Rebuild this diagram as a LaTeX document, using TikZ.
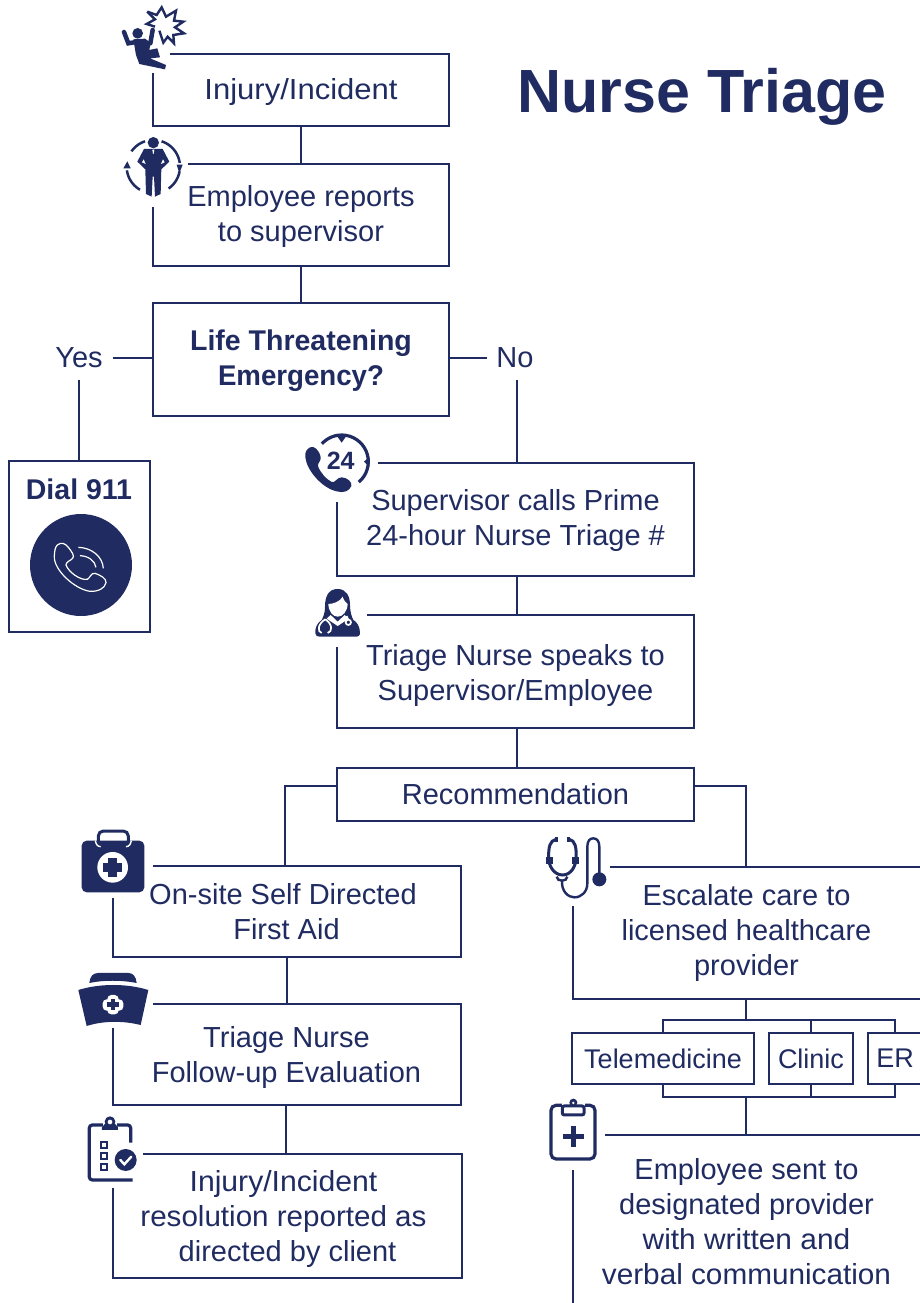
\documentclass[tikz,border=0pt]{standalone}
\usepackage{fontspec}
\setmainfont{Liberation Sans}
\definecolor{navy}{HTML}{202C61}
\newcommand{\sz}[1]{\fontsize{#1}{35}\selectfont}
\newcommand{\sx}[2]{\scalebox{#1}[1]{#2}}
\newcommand{\arcpath}[6][]{\draw[#1] plot[smooth,samples=24,domain=#5:#6] ({#2+#4*cos(\x)},{#3+#4*sin(\x)});}
\tikzset{
  ln/.style={draw=navy,line width=2.4pt},
  txt/.style={text=navy,align=center,inner sep=0pt,font=\sz{29}},
  frame/.style={inner sep=0pt,outer sep=0pt},
  ic/.style={fill=navy,draw=none},
  ico/.style={draw=navy,fill=none},
}
\begin{document}
\begin{tikzpicture}[x=1pt,y=-1pt,line join=miter]
\useasboundingbox (0,0) rectangle (919,1303);
\fill[white] (0,0) rectangle (919,1303);
% frames
\node[frame,minimum width=296pt,minimum height=72pt] (b1) at (301,90) {};
\node[frame,minimum width=296pt,minimum height=102pt] (b2) at (301,215) {};
\node[frame,ln,minimum width=296pt,minimum height=113pt] (b3) at (301,359.5) {};
\node[frame,ln,minimum width=141pt,minimum height=171pt] (d911) at (79.5,546.5) {};
\node[frame,minimum width=357pt,minimum height=113pt] (b4) at (515.5,519.5) {};
\node[frame,minimum width=357pt,minimum height=113pt] (b5) at (515.5,671.5) {};
\node[frame,ln,minimum width=357pt,minimum height=53pt] (rec) at (515.5,794.5) {};
\node[frame,minimum width=348pt,minimum height=91pt] (b6) at (287,911.5) {};
\node[frame,minimum width=348pt,minimum height=101pt] (b7) at (287,1054.5) {};
\node[frame,minimum width=349pt,minimum height=124pt] (b8) at (287.5,1216) {};
\node[frame,ln,minimum width=182pt,minimum height=51pt] (tele) at (663,1058.5) {};
\node[frame,ln,minimum width=84pt,minimum height=51pt] (clin) at (811,1058.5) {};
% gapped outlines
\coordinate (e9a) at (610,867); \coordinate (e9b) at (925,867);
\coordinate (e9c) at (925,999); \coordinate (e9d) at (573,999); \coordinate (e9e) at (573,906);
\coordinate (erA) at (925,1033); \coordinate (erB) at (868,1033); \coordinate (erC) at (868,1084); \coordinate (erD) at (925,1084);
\coordinate (e10a) at (605,1135); \coordinate (e10b) at (925,1135);
\coordinate (e10c) at (573,1170); \coordinate (e10d) at (573,1310);
\draw[ln] (170,54) -- (b1.north east) -- (b1.south east) -- (b1.south west) -- (153,73);
\draw[ln] (188,164) -- (b2.north east) -- (b2.south east) -- (b2.south west) -- (153,207);
\draw[ln] (378,463) -- (b4.north east) -- (b4.south east) -- (b4.south west) -- (337,502);
\draw[ln] (367,615) -- (b5.north east) -- (b5.south east) -- (b5.south west) -- (337,647);
\draw[ln] (153,866) -- (b6.north east) -- (b6.south east) -- (b6.south west) -- (113,898);
\draw[ln] (153,1004) -- (b7.north east) -- (b7.south east) -- (b7.south west) -- (113,1028);
\draw[ln] (143,1154) -- (b8.north east) -- (b8.south east) -- (b8.south west) -- (113,1188);
\draw[ln] (e9a) -- (e9b) (e9c) -- (e9d) -- (e9e);
\draw[ln] (erA) -- (erB) -- (erC) -- (erD);
\draw[ln] (e10a) -- (e10b) (e10c) -- (e10d);
% texts
\node[txt] (t1) at (301,92) {\sx{1.07}{Injury/Incident}};
\node[txt] (t2) at (301,217) {Employee reports\\to supervisor};
\node[txt,font=\sz{28.5}\bfseries] (t3) at (301,361) {Life Threatening\\\sx{.97}{Emergency?}};
\node[txt] (yes) at (79,358) {Yes};
\node[txt] (no) at (515,358) {No};
\node[txt,font=\sz{28.5}\bfseries] (tD) at (79,489) {Dial 911};
\node[txt] (t4) at (515.5,520) {Supervisor calls Prime\\24-hour Nurse Triage \#};
\node[txt] (t5) at (515.5,675) {Triage Nurse speaks to\\Supervisor/Employee};
\node[txt] (t6) at (515.5,794) {Recommendation};
\node[txt] (t7) at (283,911.5) {On-site Self Directed\\\hspace*{7pt}First Aid};
\node[txt] (t8) at (286.5,1057) {Triage Nurse\\Follow-up Evaluation};
\node[txt] (t9) at (283.5,1219) {\sx{1.04}{Injury/Incident}\\\sx{1.02}{resolution reported as}\\\hspace*{8pt}directed by client};
\node[txt] (t10) at (746.5,932.5) {Escalate care to\\licensed healthcare\\provider};
\node[txt,font=\sz{27}] (tT) at (663,1058.5) {Telemedicine};
\node[txt,font=\sz{27}] (tC) at (811,1058.5) {Clinic};
\node[txt,font=\sz{27}] (tE) at (895,1058.5) {ER};
\node[txt] (t11) at (746.5,1221.5) {Employee sent to\\designated provider\\\sx{1.03}{with written and}\\\sx{1.025}{verbal communication}};
\node[text=navy,inner sep=0pt,font=\sz{61}\bfseries] (title) at (702,97) {Nurse Triage};
% connectors
\draw[ln] (b1.south) -- (b2.north);
\draw[ln] (b2.south) -- (b3.north);
\draw[ln] (b3.west |- 0,358) -- (113,358);
\draw[ln] (79,380) -- (79,461);
\draw[ln] (b3.east |- 0,358) -- (487,358);
\draw[ln] (517,380) -- (517,463);
\draw[ln] (517,576) -- (517,615);
\draw[ln] (517,728) -- (517,768);
\draw[ln] (rec.west |- 0,786) -- (285,786) -- (285,866);
\draw[ln] (rec.east |- 0,786) -- (746,786) -- (746,867);
\draw[ln] (287,957) -- (287,1004);
\draw[ln] (286,1105) -- (286,1154);
\draw[ln] (746,999) -- (746,1020);
\draw[ln] (tele.north) -- (663,1020) -- (895,1020) -- (895,1033);
\draw[ln] (clin.north) -- (811,1020);
\draw[ln] (tele.south) -- (663,1097) -- (895,1097) -- (895,1084);
\draw[ln] (clin.south) -- (811,1097);
\draw[ln] (746,1097) -- (746,1135);
% ---- icon: fall + burst
\begin{scope}[shift={(100,0)},x=.3333pt,y=-.3333pt]
\draw[ico,line width=2.4pt,line join=miter] (142,35)--(170,45)--(185,22)--(198,50)--(228,32)--(222,62)--(250,65)--(225,82)--(252,100)--(220,105)--(222,130)--(203,110)--(190,128)--(178,92);
\draw[ico,line width=2.4pt] (142,35)--(165,58)--(140,72)--(165,80);
\fill[navy] (113,100) circle (16);
\fill[ic] (100,118)--(135,116)--(152,128)--(148,150)--(172,145)--(180,172)--(150,175)--(198,195)--(195,208)--(118,192)--(108,165)--cycle;
\draw[navy,line width=4.5pt,line cap=round] (72,96) -- (85,130) -- (103,127);
\draw[navy,line width=4.5pt,line cap=round] (158,90) -- (151,130);
\end{scope}
% ---- icon: employee with arrows
\begin{scope}[shift={(100,0)},x=.3333pt,y=-.3333pt]
\fill[navy] (160,428) circle (17);
\fill[ic] (132,447)--(188,447)--(208,485)--(184,508)--(182,582)--(165,590)--(162,530)--(158,530)--(155,590)--(138,582)--(136,508)--(112,485)--cycle;
\fill[white] (157,449)--(163,449)--(161,462)--(159,462)--cycle;
\fill[white] (131,478)--(137,492)--(126,487)--cycle;
\fill[white] (189,478)--(183,492)--(194,487)--cycle;
\arcpath[navy,line width=2.5pt]{160}{500}{80}{-145}{-108}
\arcpath[navy,line width=2.5pt]{160}{500}{80}{-72}{-8}
\arcpath[navy,line width=2.5pt]{160}{500}{80}{10}{55}
\arcpath[navy,line width=2.5pt]{160}{500}{80}{120}{172}
\fill[navy] (238,520)--(230,494)--(248,494)--cycle;
\fill[navy] (82,484)--(70,505)--(92,505)--cycle;
\end{scope}
% ---- icon: 24 phone
\begin{scope}[shift={(290,420)},x=.3333pt,y=-.3333pt]
\arcpath[navy,line width=3.2pt]{155}{125}{80}{-138}{50}
\fill[navy] (141,48)--(169,48)--(155,68)--cycle;
\fill[navy] (238,110)--(238,140)--(222,125)--cycle;
\fill[ic] (60,82) .. controls (72,76) and (88,90) .. (92,112) .. controls (94,124) and (82,128) .. (84,138) .. controls (90,158) and (110,178) .. (125,186) .. controls (136,190) and (140,172) .. (155,172) .. controls (170,172) and (188,186) .. (184,198) .. controls (178,214) and (160,220) .. (140,214) .. controls (95,204) and (50,150) .. (46,112) .. controls (44,96) and (50,88) .. (60,82) -- cycle;
\node[inner sep=0pt,text=navy,font=\sz{25}\bfseries] (n24) at (152,122) {24};
\end{scope}
% ---- icon: nurse
\begin{scope}[shift={(290,420)},x=.3333pt,y=-.3333pt]
\fill[ic] (143,507) .. controls (115,507) and (105,530) .. (105,560) .. controls (105,580) and (100,590) .. (95,600) .. controls (80,610) and (75,625) .. (76,640) .. controls (76,648) and (82,650) .. (90,650) -- (195,650) .. controls (205,650) and (210,648) .. (210,638) .. controls (210,620) and (200,605) .. (190,600) .. controls (185,590) and (180,575) .. (180,555) .. controls (180,530) and (170,507) .. (143,507) -- cycle;
\fill[white] (115,552) .. controls (130,552) and (150,545) .. (158,530) .. controls (162,545) and (170,548) .. (173,552) .. controls (172,575) and (158,590) .. (143,590) .. controls (128,590) and (116,575) .. (115,552) -- cycle;
\fill[white] (122,585)--(143,605)--(164,585)--(176,596)--(143,618)--(110,596)--cycle;
\draw[white,line width=1.7pt] (106,598) .. controls (82,612) and (82,636) .. (95,639) (106,598) .. controls (128,612) and (128,636) .. (113,639);
\draw[white,line width=1.7pt] (170,588) -- (174,598);
\draw[white,line width=1.7pt] (175,607) circle (8);
\end{scope}
% ---- icon: first aid kit
\begin{scope}[shift={(70,820)},x=.3333pt,y=-.3333pt]
\draw[navy,line width=3pt,rounded corners=5pt] (85,78) -- (85,33) -- (175,33) -- (175,78);
\fill[navy,rounded corners=5pt] (35,62) rectangle (223,217);
\draw[white,line width=1.4pt] (76,62) .. controls (78,72) and (82,80) .. (92,80) (184,62) .. controls (182,72) and (178,80) .. (168,80);
\fill[white] (128,142) circle (46);
\fill[navy] (115,114) rectangle (141,170);
\fill[navy] (100,129) rectangle (156,155);
\end{scope}
% ---- icon: nurse cap
\begin{scope}[shift={(70,820)},x=.3333pt,y=-.3333pt]
\fill[ic] (58,489) .. controls (60,470) and (68,459) .. (85,459) -- (175,459) .. controls (190,459) and (198,470) .. (200,489) .. controls (155,480) and (100,480) .. (58,489) -- cycle;
\fill[ic] (25,510) .. controls (90,490) and (170,490) .. (235,510) -- (212,615) .. controls (160,602) and (100,602) .. (50,618) -- cycle;
\fill[white,rounded corners=4pt] (112,525) rectangle (146,583);
\fill[white,rounded corners=4pt] (98,538) rectangle (160,572);
\fill[navy] (122,536) rectangle (136,570);
\fill[navy] (110,546) rectangle (148,560);
\end{scope}
% ---- icon: clipboard check
\begin{scope}[shift={(70,820)},x=.3333pt,y=-.3333pt]
\draw[navy,line width=3.2pt,rounded corners=3pt] (182,968) -- (182,915) -- (58,915) -- (58,1080) -- (188,1080);
\fill[white] (98,900) rectangle (142,925);
\fill[ic] (96,922)--(106,910)--(134,910)--(144,922)--(144,930)--(96,930)--cycle;
\fill[navy] (120,905) circle (16);
\fill[white] (120,906) circle (7);
\draw[navy,line width=1.8pt] (92,965) rectangle (112,983) (92,998) rectangle (112,1016) (92,1031) rectangle (112,1049);
\fill[white] (167,1020) circle (40);
\fill[navy] (167,1020) circle (33);
\draw[white,line width=2.4pt,line cap=round] (151,1020) -- (163,1033) -- (184,1010);
\end{scope}
% ---- icon: stethoscope
\begin{scope}[shift={(530,820)},x=.3333pt,y=-.3333pt]
\draw[navy,line width=3pt] (78,58) .. controls (60,62) and (55,80) .. (56,115) .. controls (56,135) and (70,165) .. (98,165) .. controls (125,165) and (138,135) .. (138,115) .. controls (140,80) and (135,62) .. (118,58);
\fill[navy] (48,112) rectangle (68,132);
\fill[navy] (127,112) rectangle (147,132);
\fill[navy] (74,52) rectangle (84,66);
\fill[navy] (110,52) rectangle (120,66);
\draw[navy,line width=2.4pt] (80,170) .. controls (80,186) and (112,186) .. (112,170);
\draw[navy,line width=2.4pt] (96,182) .. controls (94,215) and (115,232) .. (133,232) .. controls (155,232) and (172,215) .. (172,190) -- (172,80) .. controls (172,62) and (180,55) .. (190,55) .. controls (202,55) and (208,65) .. (208,80) -- (208,165);
\fill[navy] (208,178) circle (21);
\end{scope}
% ---- icon: clipboard plus
\begin{scope}[shift={(530,820)},x=.3333pt,y=-.3333pt]
\draw[navy,line width=3.2pt,rounded corners=5pt] (63,856) rectangle (195,1017);
\fill[white] (95,848) rectangle (165,885);
\draw[navy,line width=3pt,fill=white,rounded corners=2pt] (97,858) rectangle (162,885);
\fill[navy] (130,848) circle (12);
\fill[white] (130,849) circle (4);
\fill[navy] (123,918) rectangle (137,980);
\fill[navy] (98,942) rectangle (162,956);
\end{scope}
% ---- icon: 911 phone
\fill[navy] (81,565) circle (51);
\begin{scope}[shift={(0,450)},x=.3333pt,y=-.3333pt]
\draw[white,line width=1.2pt,line join=round] (172,285) .. controls (185,275) and (195,280) .. (205,292) .. controls (215,305) and (225,318) .. (218,325) .. controls (212,332) and (198,335) .. (198,345) .. controls (205,365) and (240,392) .. (262,388) .. controls (270,385) and (272,368) .. (285,370) .. controls (300,375) and (320,385) .. (318,398) .. controls (315,415) and (295,425) .. (270,424) .. controls (225,418) and (160,360) .. (163,318) .. controls (164,302) and (165,292) .. (172,285) -- cycle;
\draw[white,line width=1.2pt] (235,292) .. controls (275,293) and (308,320) .. (310,355);
\draw[white,line width=1.2pt] (240,317) .. controls (265,318) and (285,332) .. (288,352);
\end{scope}
\end{tikzpicture}
\end{document}
